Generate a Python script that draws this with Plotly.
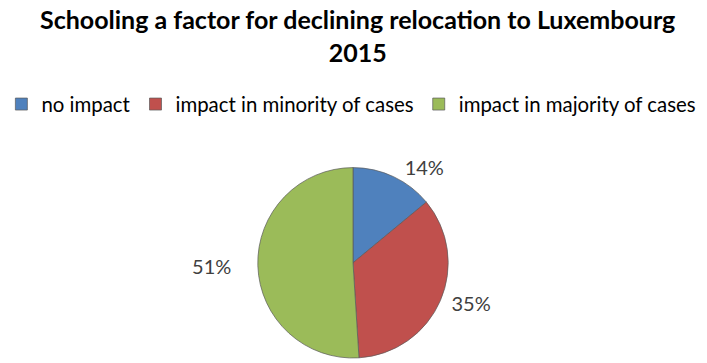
import plotly.graph_objects as go

categories = ["no impact", "impact in minority of cases", "impact in majority of cases"]
values = [14, 35, 51]
colors = ["#4F81BD", "#C0504D", "#9BBB59"]
title_text = "Schooling a factor for declining relocation to Luxembourg<br>2015"

W, H = 707, 363
FONT = "Lato"
CX, CY, R = 353, 265, 96
NB = "\u00a0"

fig = go.Figure(
    go.Pie(
        labels=categories,
        values=values,
        sort=False,
        direction="clockwise",
        rotation=0,
        marker=dict(colors=colors, line=dict(color="#5a5a5a", width=0.7)),
        textinfo="percent",
        textposition="outside",
        texttemplate=[NB + "%{percent:.0%}", NB + "%{percent:.0%}", "%{percent:.0%}" + NB * 4],
        outsidetextfont=dict(family=FONT, size=20, color="#404040"),
        domain=dict(x=[(CX - R) / W, (CX + R) / W], y=[(H - CY - R) / H, (H - CY + R) / H]),
        hoverinfo="skip",
    )
)

fig.update_layout(
    width=W,
    height=H,
    margin=dict(l=0, r=0, t=0, b=0),
    paper_bgcolor="white",
    plot_bgcolor="white",
    showlegend=True,
    legend=dict(
        orientation="h",
        x=0.497,
        xanchor="center",
        y=1 - 85 / H,
        yanchor="top",
        font=dict(family=FONT, size=20.4, color="#000000"),
        itemwidth=30,
        traceorder="normal",
    ),
    annotations=[
        dict(
            text=title_text,
            x=0.505,
            xref="paper",
            xanchor="center",
            y=1 - 2 / H,
            yref="paper",
            yanchor="top",
            showarrow=False,
            font=dict(family=FONT, size=25, color="#000000", weight="bold"),
        )
    ],
)

fig.write_html("out.html")
